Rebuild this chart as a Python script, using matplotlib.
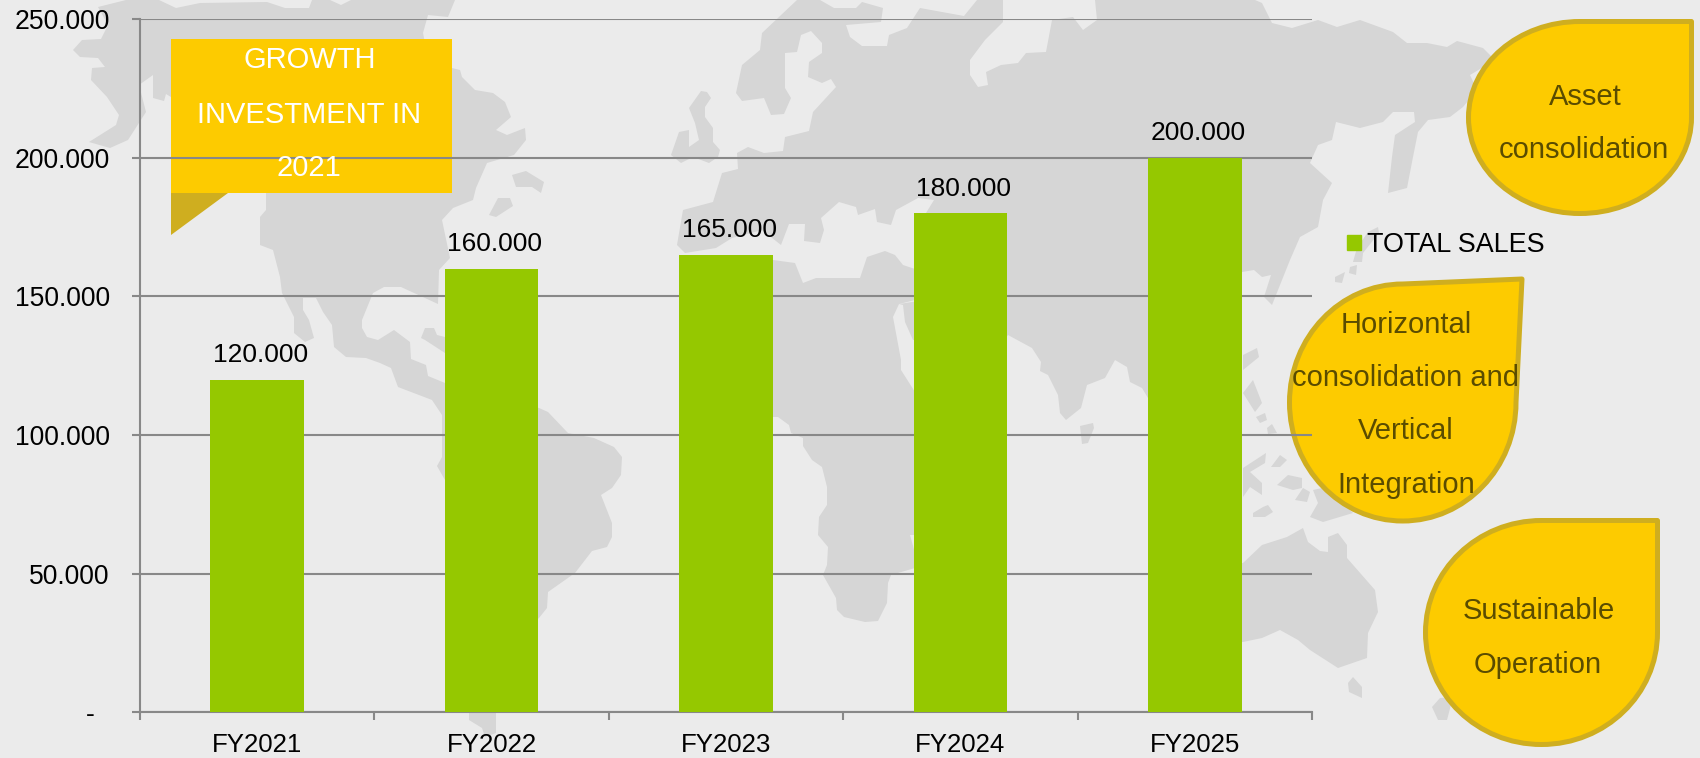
import matplotlib
matplotlib.use("Agg")
import matplotlib.pyplot as plt
from matplotlib.patches import Polygon, PathPatch, Patch
from matplotlib.path import Path

plt.rcParams['font.family'] = ['Liberation Sans', 'DejaVu Sans']

categories = ["FY2021", "FY2022", "FY2023", "FY2024", "FY2025"]
total_sales = [120000, 160000, 165000, 180000, 200000]
y_ticks = [0, 50000, 100000, 150000, 200000, 250000]
y_labels = ["-  ", "50.000", "100.000", "150.000", "200.000", "250.000"]
series_name = "TOTAL SALES"

W, H = 1700, 758
BG = "#EBEBEB"
LAND = "#D6D6D6"
GREEN = "#95C800"
GRID = "#888888"
YELLOW = "#FDCB00"
EDGE = "#CFAE1F"
DARK = "#5A4C00"

# background world map, traced in pixels
land = [
    # north america
    [(126,0),(159,0),(176,8),(200,3),(267,2),(285,8),(309,8),(312,0),(330,0),(341,5),(351,0),(455,0),(448,17),
     (428,15),(423,33),(430,68),(452,68),(460,70),(462,77),(475,90),(493,93),(505,102),(511,117),(496,130),
     (507,135),(525,128),(526,140),(514,155),(487,163),(476,188),(473,200),(453,208),(442,220),(450,258),
     (439,270),(438,304),(401,287),(384,287),(373,293),(362,320),(362,328),(367,337),(378,340),(394,330),
     (410,342),(411,359),(426,365),(428,376),(445,383),(445,440),(442,415),(432,400),(398,387),(391,368),
     (380,363),(366,358),(346,357),(334,347),(332,325),(323,312),(316,298),(303,298),(303,310),(309,320),
     (314,338),(305,342),(294,333),(294,317),(282,293),(280,277),(273,250),(260,245),(260,217),(266,210),
     (266,193),(200,150),(171,97),(166,94),(164,101),(153,98),(153,75),(139,85),(146,112),(128,140),(110,148),
     (89,142),(116,125),(119,115),(107,97),(91,80),(92,68),(105,67),(98,58),(80,57),(73,50),(82,40),(101,39),
     (108,25),(98,7)],
    # south america
    [(445,383),(539,408),(548,412),(568,433),(594,438),(614,447),(622,457),(621,475),(612,488),(601,495),
     (612,523),(612,537),(607,547),(592,551),(575,573),(548,592),(547,608),(539,618),(500,650),(496,713),
     (496,733),(485,737),(482,728),(469,720),(469,713),(465,620),(445,480),(437,466),(442,457),(442,415)],
    # africa
    [(770,255),(773,260),(795,263),(803,283),(816,278),(860,278),(867,257),(885,251),(895,255),(903,265),
     (915,269),(915,300),(899,304),(893,317),(901,360),(901,370),(915,392),(915,535),(910,535),(915,553),
     (915,568),(891,575),(888,583),(887,603),(878,621),(865,622),(844,617),(837,610),(836,598),(823,575),
     (827,565),(828,547),(818,535),(819,517),(827,505),(827,487),(822,467),(812,460),(803,446),(803,438),
     (791,433),(789,425),(778,417),(730,417),(730,300)],
    [(899,304),(903,305),(905,322),(913,340),(925,340),(925,300)],
    # eurasia
    [(797,0),(820,0),(834,8),(856,8),(862,2),(883,8),(881,22),(846,25),(850,37),(862,46),(887,46),(889,35),
     (907,28),(920,8),(964,16),(977,0),(1003,0),(1003,22),(985,40),(970,60),(970,75),(978,87),(988,85),
     (986,72),(1001,65),(1018,63),(1026,53),(1046,52),(1052,20),(1073,17),(1083,30),(1097,20),(1095,0),
     (1255,0),(1262,3),(1272,23),(1292,28),(1318,20),(1337,27),(1360,20),(1393,32),(1407,43),(1427,43),
     (1447,47),(1457,41),(1483,48),(1495,60),(1470,75),(1477,90),(1463,107),(1450,117),(1428,120),(1418,132),
     (1413,157),(1407,188),(1388,193),(1392,157),(1395,135),(1415,122),(1414,112),(1393,112),(1383,122),
     (1360,128),(1336,122),(1332,140),(1318,145),(1310,163),(1332,183),(1323,200),(1318,227),(1300,237),
     (1290,260),(1282,280),(1272,305),(1264,297),(1271,275),(1262,277),(1254,270),(1242,272),(1242,320),
     (1148,398),(1142,388),(1130,382),(1127,367),(1115,360),(1105,378),(1087,385),(1081,408),(1066,420),
     (1060,413),(1058,395),(1048,375),(1040,371),(1041,362),(1032,348),(1008,335),(960,400),(960,250),
     (926,213),(934,200),(918,198),(896,210),(891,225),(877,222),(875,209),(858,215),(856,207),(839,202),
     (821,218),(824,230),(820,243),(804,241),(805,224),(789,224),(781,245),(762,230),(732,238),(716,248),
     (685,253),(677,245),(683,210),(713,202),(722,173),(738,169),(737,153),(748,147),(764,153),(783,151),
     (785,137),(809,131),(813,112),(836,87),(831,79),(822,83),(808,77),(809,62),(822,53),(822,43),(811,31),
     (801,35),(797,52),(785,53),(785,88),(791,98),(784,114),(771,115),(764,98),(742,101),(736,93),(742,65),
     (760,50),(762,33)],
    # britain and ireland
    [(689,108),(701,91),(707,92),(711,98),(705,107),(705,117),(713,128),(713,142),(720,150),(718,157),
     (709,163),(693,157),(681,163),(671,155),(679,132),(689,130),(689,147),(699,140),(695,123)],
    # islands north america
    [(512,175),(526,171),(544,182),(541,193),(532,187),(516,187)],
    [(489,215),(498,198),(510,198),(513,206),(496,217)],
    [(421,338),(425,328),(434,328),(437,335),(445,337),(445,353),(425,340)],
    # japan
    [(1378,227),(1379,233),(1363,253),(1362,262),(1353,262),(1357,248),(1368,232)],
    [(1350,267),(1357,265),(1356,275),(1349,273)],
    [(1335,277),(1345,272),(1342,283),(1335,282)],
    # sri lanka
    [(1080,426),(1093,423),(1094,428),(1088,443),(1082,444)],
    # south east asia
    [(1243,355),(1257,348),(1259,357),(1243,370)],
    [(1243,393),(1253,380),(1262,403),(1255,412)],
    [(1256,417),(1265,413),(1267,420),(1260,423)],
    [(1267,428),(1272,424),(1277,433),(1268,434)],
    [(1243,468),(1266,453),(1265,463),(1250,472),(1262,483),(1262,495),(1250,487),(1243,497)],
    [(1271,467),(1280,455),(1287,460),(1280,467)],
    [(1253,513),(1263,507),(1268,505),(1273,512),(1265,517),(1253,517)],
    [(1277,485),(1288,475),(1302,478),(1302,488),(1293,490)],
    [(1295,500),(1303,488),(1310,492),(1307,502)],
    [(1310,517),(1318,503),(1313,490),(1327,487),(1353,513),(1323,522)],
    # australia
    [(1190,570),(1243,563),(1262,545),(1287,537),(1303,528),(1308,542),(1320,551),(1328,552),(1328,537),
     (1338,533),(1347,545),(1347,558),(1375,590),(1378,612),(1368,633),(1367,658),(1338,668),(1310,650),
     (1298,640),(1280,630),(1262,638),(1243,642),(1190,640)],
    [(1348,683),(1353,677),(1362,687),(1362,698),(1349,692)],
    [(1432,707),(1440,698),(1453,697),(1447,720),(1438,720)],
]


def drop(left, top, right, bottom, tip=None):
    cx, cy = (left + right) / 2.0, (top + bottom) / 2.0
    kx, ky = 0.5523 * (right - left) / 2.0, 0.5523 * (bottom - top) / 2.0
    if tip is None:
        tip = (right, top)
    verts = [tip, (cx, top),
             (cx - kx, top), (left, cy - ky), (left, cy),
             (left, cy + ky), (cx - kx, bottom), (cx, bottom),
             (cx + kx, bottom), (right, cy + ky), (right, cy),
             tip, tip]
    codes = [Path.MOVETO, Path.LINETO] + [Path.CURVE4] * 9 + [Path.LINETO, Path.CLOSEPOLY]
    return Path(verts, codes)


fig = plt.figure(figsize=(W / 100.0, H / 100.0), dpi=100, facecolor=BG)

# decoration layer, pixel coordinates
bg = fig.add_axes([0, 0, 1, 1], zorder=0)
bg.set_xlim(0, W)
bg.set_ylim(H, 0)
bg.axis("off")
for pts in land:
    bg.add_patch(Polygon(pts, closed=True, fc=LAND, ec="none"))

bg.add_patch(Polygon([(171, 193), (228, 193), (171, 235)], closed=True, fc=EDGE, ec="none"))
bg.add_patch(Polygon([(171, 39), (452, 39), (452, 193), (171, 193)], closed=True, fc=YELLOW, ec="none"))

for path in [drop(1468.5, 21.5, 1691.5, 213.5),
             drop(1289.5, 284, 1516, 521, tip=(1522, 279)),
             drop(1425.5, 520.5, 1657.5, 744.5)]:
    bg.add_patch(PathPatch(path, fc=YELLOW, ec=EDGE, lw=3.6, joinstyle="round"))

# the chart itself
ax = fig.add_axes([140.0 / W, 1 - 712.3 / H, 1172.0 / W, 693.3 / H], zorder=1)
ax.patch.set_alpha(0)
x = list(range(len(categories)))
bars = ax.bar(x, total_sales, width=0.4, color=GREEN, zorder=3, label=series_name)
labs = ax.bar_label(bars, labels=[f"{v:,.0f}".replace(",", ".") for v in total_sales],
                    fontsize=19, padding=8.8, color="black", zorder=4)
for lab in labs:
    lab.xyann = (2.4, 8.8)

ax.set_xlim(-0.5, len(categories) - 0.5)
ax.set_ylim(0, 250000)
ax.spines['right'].set_color('none')
ax.spines['top'].set_color('none')
ax.spines['left'].set_color(GRID)
ax.spines['bottom'].set_color(GRID)
ax.spines['left'].set_linewidth(1.5)
ax.spines['bottom'].set_linewidth(1.5)

ax.set_yticks(y_ticks)
ax.set_yticklabels(y_labels, fontsize=19.1, color="black")
ax.yaxis.set_tick_params(length=5.8, width=1.5, color=GRID, pad=16)
ax.yaxis.grid(True, color=GRID, lw=1.5)
ax.set_axisbelow(True)

ax.set_xticks(x)
ax.set_xticklabels(categories, fontsize=18.6, color="black")
ax.set_xticks([i - 0.5 for i in range(len(categories) + 1)], minor=True)
ax.xaxis.set_tick_params(which="major", length=0, pad=15)
ax.xaxis.set_tick_params(which="minor", length=5.8, width=1.5, color=GRID)

ax.legend(handles=[Patch(color=GREEN, label=series_name)], loc="center left",
          bbox_to_anchor=(1347.0 / W, 1 - 245.0 / H), bbox_transform=fig.transFigure,
          frameon=False, fontsize=19.4, borderpad=0, borderaxespad=0,
          handlelength=0.53, handleheight=0.53, handletextpad=0.23)


def put(px, py, s, color):
    fig.text(px / W, 1 - py / H, s, fontsize=21, color=color, ha="center", va="baseline", zorder=5)


put(310, 68, "GROWTH", "white")
put(309, 123, "INVESTMENT IN", "white")
put(309, 176, "2021", "white")
put(1585, 105, "Asset", DARK)
put(1584, 158, "consolidation", DARK)
put(1406, 333, "Horizontal", DARK)
put(1406, 386, "consolidation and", DARK)
put(1406, 439, "Vertical", DARK)
put(1406, 493, "Integration", DARK)
put(1539, 619, "Sustainable", DARK)
put(1538, 673, "Operation", DARK)

plt.savefig("out.png", dpi=100, facecolor=BG)
